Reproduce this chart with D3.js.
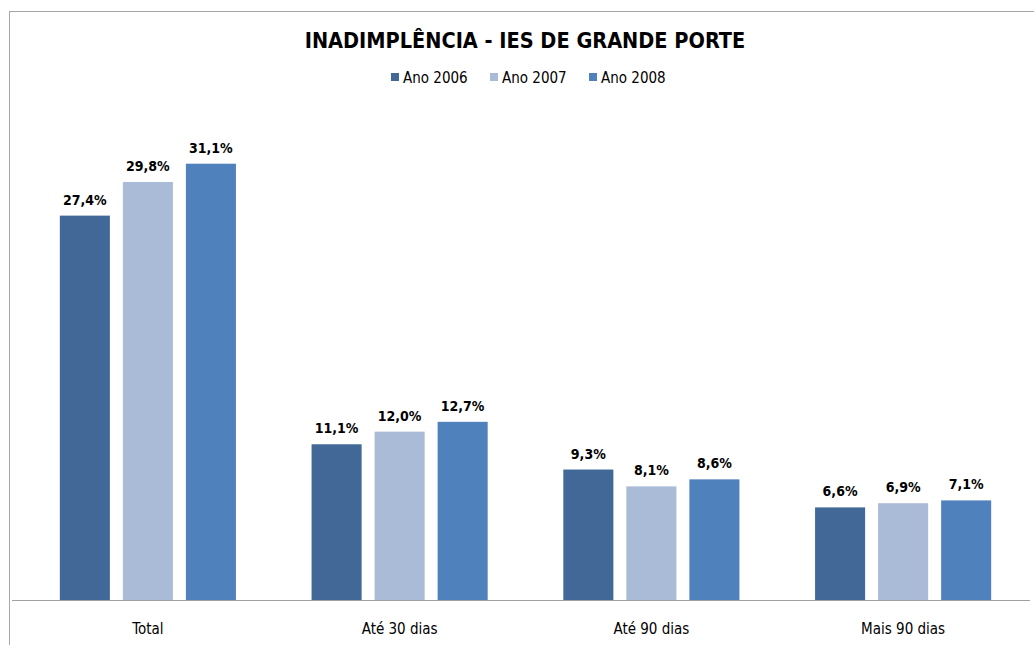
<!DOCTYPE html>
<html><head><meta charset="utf-8">
<script src="https://cdn.jsdelivr.net/npm/d3@7"></script>
<style>
html,body{margin:0;padding:0;background:#fff;}
svg{display:block;}
text{font-family:"Liberation Sans Narrow","DejaVu Sans Condensed","Open Sans",sans-serif;}
</style></head>
<body>
<script>
const categories = ["Total", "Até 30 dias", "Até 90 dias", "Mais 90 dias"];
const seriesNames = ["Ano 2006", "Ano 2007", "Ano 2008"];
const values2006 = [27.4, 11.1, 9.3, 6.6];
const values2007 = [29.8, 12.0, 8.1, 6.9];
const values2008 = [31.1, 12.7, 8.6, 7.1];
const colors = ["#416896", "#AABBD8", "#4F81BD"];

const W = 1034, H = 645;
const svg = d3.select("body").append("svg").attr("width", W).attr("height", H);

// chart frame
svg.append("rect").attr("x", 9.5).attr("y", 11.5).attr("width", 1040).attr("height", 700)
  .attr("fill", "#fff").attr("stroke", "#a6a6a6").attr("stroke-width", 1);

const series = [values2006, values2007, values2008];
const data = categories.map((c, i) => ({cat: c, vals: series.map((s, j) => ({name: seriesNames[j], v: s[i], j}))}));

const x0 = d3.scaleBand().domain(categories).range([22, 1029]).paddingInner(0).paddingOuter(0);
const x1 = d3.scaleBand().domain(seriesNames).range([0, x0.bandwidth()]).paddingInner(0.206).paddingOuter(0.6);
const y = d3.scaleLinear().domain([0, 35]).range([600, 109]);

// title
svg.append("text").attr("x", 525).attr("y", 48).attr("text-anchor", "middle")
  .attr("font-size", 21.5).attr("font-weight", "bold").attr("fill", "#000")
  .text("INADIMPLÊNCIA - IES DE GRANDE PORTE");

// legend
const legX = [391, 490, 589];
const leg = svg.append("g");
seriesNames.forEach((n, j) => {
  leg.append("rect").attr("x", legX[j]).attr("y", 73).attr("width", 8).attr("height", 8).attr("fill", colors[j]);
  leg.append("text").attr("x", legX[j] + 12).attr("y", 83).attr("font-size", 15).attr("fill", "#000").text(n);
});

// bars
const g = svg.append("g");
const groups = g.selectAll("g.grp").data(data).join("g").attr("class", "grp")
  .attr("transform", d => `translate(${x0(d.cat)},0)`);
groups.selectAll("rect").data(d => d.vals).join("rect")
  .attr("x", d => x1(d.name)).attr("width", x1.bandwidth())
  .attr("y", d => y(d.v)).attr("height", d => y(0) - y(d.v))
  .attr("fill", d => colors[d.j]);
groups.selectAll("text").data(d => d.vals).join("text")
  .attr("x", d => x1(d.name) + x1.bandwidth() / 2).attr("y", d => y(d.v) - 11)
  .attr("text-anchor", "middle").attr("font-size", 14).attr("font-weight", "bold").attr("fill", "#000")
  .text(d => d.v.toFixed(1).replace(".", ",") + "%");

// x axis
const xAxis = svg.append("g").attr("transform", `translate(0,${y(0)})`)
  .call(d3.axisBottom(x0).tickSize(0).tickPadding(23));
xAxis.select(".domain").attr("stroke", "#a0a0a0").attr("d", "M12,0.5H1030");
xAxis.selectAll("text").attr("font-size", 15).attr("fill", "#000")
  .style("font-family", '"Liberation Sans Narrow","DejaVu Sans Condensed",sans-serif');
</script>
</body></html>
